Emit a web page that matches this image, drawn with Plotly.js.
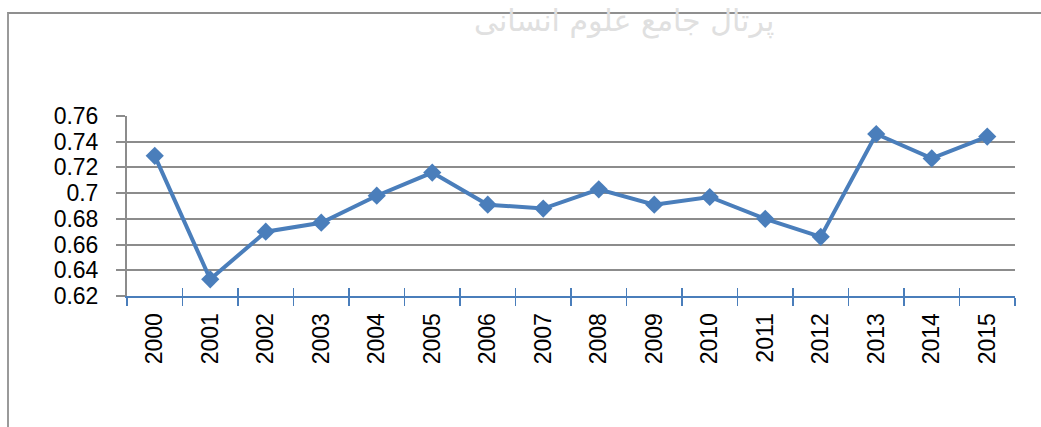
<!DOCTYPE html>
<html>
<head>
<meta charset="utf-8">
<script src="https://cdn.plot.ly/plotly-3.0.1.min.js"></script>
<style>
  html, body { margin: 0; padding: 0; background: #ffffff; }
  #wrap { position: relative; width: 1041px; height: 427px; overflow: hidden; }
  #frame { position: absolute; left: 7px; top: 12px; width: 1100px; height: 500px;
           border-top: 2px solid #8f8f8f; border-left: 2px solid #9a9a9a; }
  #chart { position: absolute; left: 0; top: 0; width: 1041px; height: 427px; }
</style>
</head>
<body>
<div id="wrap">
  <div id="frame"></div>
  <div id="chart"></div>
</div>
<script>
const years = ["2000","2001","2002","2003","2004","2005","2006","2007","2008","2009","2010","2011","2012","2013","2014","2015"];
const values = [0.729,0.633,0.670,0.677,0.698,0.716,0.691,0.688,0.703,0.691,0.697,0.680,0.666,0.746,0.727,0.744];
const yTicks = [0.62,0.64,0.66,0.68,0.70,0.72,0.74,0.76];
const yTickText = ["0.62","0.64","0.66","0.68","0.7","0.72","0.74","0.76"];
const watermark = "پرتال جامع علوم انسانی";

const blue = "#4a7ebb";
const font = "Liberation Sans, Arial, sans-serif";
const catRange = [-0.5, years.length - 0.5];

const trace = {
  x: years, y: values, type: "scatter", mode: "lines+markers",
  line: { color: blue, width: 4 },
  marker: { symbol: "diamond", size: 14, color: blue },
  cliponaxis: false, hoverinfo: "x+y"
};
const ghost = {
  x: years, y: values, type: "scatter", mode: "none", xaxis: "x2", yaxis: "y", hoverinfo: "skip", showlegend: false
};

const layout = {
  width: 1041, height: 427,
  margin: { l: 127, r: 26, t: 116, b: 131 },
  paper_bgcolor: "rgba(0,0,0,0)", plot_bgcolor: "rgba(0,0,0,0)",
  showlegend: false,
  font: { family: font, color: "#000000", size: 23 },
  xaxis: {
    type: "category", range: catRange, autorange: false, tickson: "boundaries",
    ticks: "outside", ticklen: 8, tickwidth: 1.5, tickcolor: blue,
    showline: true, linecolor: blue, linewidth: 2,
    showgrid: false, zeroline: false,
    tickangle: -90, tickfont: { family: font, size: 23 },
    ticklabelstandoff: 6
  },
  xaxis2: {
    type: "category", range: catRange, autorange: false, tickson: "boundaries", overlaying: "x",
    ticks: "inside", ticklen: 8, tickwidth: 1.5, tickcolor: blue,
    showticklabels: false, showline: false, showgrid: false, zeroline: false
  },
  yaxis: {
    range: [0.62, 0.76], autorange: false, tickvals: yTicks, ticktext: yTickText,
    ticks: "outside", ticklen: 9, tickwidth: 2, tickcolor: "#8c8c8c",
    showline: true, linecolor: "#8c8c8c", linewidth: 2,
    showgrid: true, gridcolor: "#8c8c8c", gridwidth: 2, zeroline: false,
    tickfont: { family: font, size: 23 }, ticklabelstandoff: 13
  },
  annotations: [{
    text: watermark, xref: "paper", yref: "paper", x: 0.56, y: 1.53,
    showarrow: false, font: { family: "DejaVu Sans, sans-serif", size: 30, color: "#e0e0e0" },
    xanchor: "center", yanchor: "middle"
  }]
};

Plotly.newPlot("chart", [trace, ghost], layout, { displayModeBar: false, staticPlot: true });
</script>
</body>
</html>
